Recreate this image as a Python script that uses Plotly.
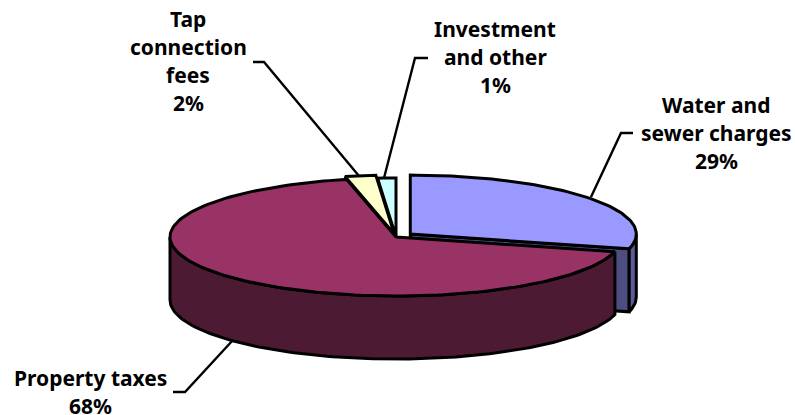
import math
import plotly.graph_objects as go

# Revenue shares, clockwise from twelve o'clock
categories = [["Water and", "sewer charges"], ["Property taxes"], ["Tap", "connection", "fees"], ["Investment", "and other"]]
shares = [29.0, 67.5, 2.2, 1.3]
explode = [0.08, 0.0, 0.05, 0.0]
top_colors = ["#9999FF", "#993366", "#FFFFCC", "#CCFFFF"]
side_colors = ["#5A5A96", "#4D1A33", "#808066", "#668080"]
cut_colors = ["#4D4D80", "#4D1A33", "#808066", "#668080"]

# Projected disc geometry in page pixels
CX, CY, RX, RY, DEPTH = 396, 237, 226, 59, 63
EDGE = 3

# Label anchor and leader-line vertices for each slice
label_x = [716, 90, 188, 495]
label_y = [133, 392, 61, 57]
LINE_STEP = 28
leader_x = [[633, 621, 591], [173, 185, 233], [253, 264, 359], [428, 415, 384]]
leader_y = [[133, 133, 197], [392, 392, 340], [62, 62, 176], [58, 58, 178]]
FONT = "Noto Sans"
FONT_SIZE = 21


def rim(a0, a1, ox, oy, dz=0.0):
    n = max(int(abs(a1 - a0) / 1.5), 2)
    pts = [a0 + (a1 - a0) * i / n for i in range(n + 1)]
    xs = [CX + ox + RX * math.sin(math.radians(a)) for a in pts]
    ys = [CY + oy + dz - RY * math.cos(math.radians(a)) for a in pts]
    return xs, ys


fig = go.Figure()


def poly(xs, ys, fill):
    fig.add_trace(go.Scatter(x=xs, y=ys, mode="lines", fill="toself", fillcolor=fill,
                             line=dict(color="black", width=EDGE), hoverinfo="skip",
                             showlegend=False))


# Slice angles and explosion offsets
spans, start = [], 0.0
for share in shares:
    spans.append((start, start + share * 3.6))
    start += share * 3.6
offsets = []
for (a0, a1), e in zip(spans, explode):
    mid = math.radians((a0 + a1) / 2)
    offsets.append((RX * e * math.sin(mid), -RY * e * math.cos(mid)))

# Water slice walls sit behind everything else
a0, a1 = spans[0]
ox, oy = offsets[0]
tipx, tipy = rim(a1, a1, ox, oy)
poly([CX + ox, tipx[0], tipx[0], CX + ox, CX + ox],
     [CY + oy, tipy[0], tipy[0] + DEPTH, CY + oy + DEPTH, CY + oy], cut_colors[0])
xt, yt = rim(a1, 90, ox, oy)
xb, yb = rim(90, a1, ox, oy, DEPTH)
poly(xt + xb + xt[:1], yt + yb + yt[:1], side_colors[0])

# Visible outer wall of the large slice
a0, a1 = spans[1]
xt, yt = rim(a0, 270, 0, 0)
xb, yb = rim(270, a0, 0, 0, DEPTH)
poly(xt + xb + xt[:1], yt + yb + yt[:1], side_colors[1])

# Top faces
for i in [0, 1, 3, 2]:
    a0, a1 = spans[i]
    ox, oy = offsets[i]
    xs, ys = rim(a0, a1, ox, oy)
    poly([CX + ox] + xs + [CX + ox], [CY + oy] + ys + [CY + oy], top_colors[i])

# Leader lines
for xs, ys in zip(leader_x, leader_y):
    fig.add_trace(go.Scatter(x=xs, y=ys, mode="lines", line=dict(color="black", width=2.4),
                             hoverinfo="skip", showlegend=False))

# Category and percentage labels, set line by line for a tight, even leading
for name, share, x, y in zip(categories, shares, label_x, label_y):
    lines = name + [f"{share:.0f}%"]
    for k, text in enumerate(lines):
        fig.add_annotation(x=x, y=y + (k - (len(lines) - 1) / 2) * LINE_STEP, xref="x", yref="y",
                           showarrow=False, text=text,
                           font=dict(family=FONT, size=FONT_SIZE, color="black", weight=700))

fig.update_xaxes(range=[0, 795], visible=False, fixedrange=True)
fig.update_yaxes(range=[415, 0], visible=False, fixedrange=True)
fig.update_layout(width=795, height=415, margin=dict(l=0, r=0, t=0, b=0),
                  paper_bgcolor="white", plot_bgcolor="white", showlegend=False)
fig.write_html("out.html", config={"displayModeBar": False})
